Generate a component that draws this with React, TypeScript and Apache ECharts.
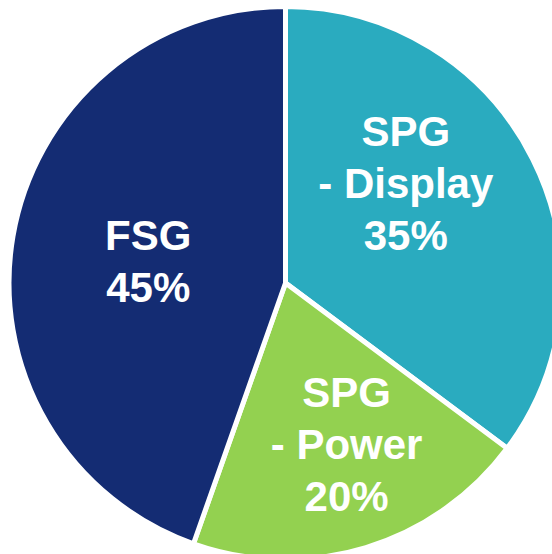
import React, { useEffect, useRef } from "react";
import * as echarts from "echarts";

const categories = ["SPG - Display", "SPG - Power", "FSG"];
const shares = [35.2, 20.2, 44.6];
const colors = ["#2AABBF", "#93D150", "#142C73"];
// label nudges (px) relative to the default inside position
const labelNudges = [
  { dx: -6, dy: -36 },
  { dx: 20, dy: 26 },
  { dx: 2, dy: 2 },
];

export default function App() {
  const ref = useRef<HTMLDivElement>(null);
  useEffect(() => {
    if (!ref.current) return;
    const chart = echarts.init(ref.current, null, { renderer: "svg" });
    chart.setOption({
      animation: false,
      series: [
        {
          type: "pie",
          center: [285.5, 283],
          radius: [0, 276.5],
          startAngle: 90,
          clockwise: true,
          avoidLabelOverlap: false,
          data: categories.map((name, i) => ({
            name,
            value: shares[i],
            itemStyle: { color: colors[i] },
          })),
          itemStyle: { borderColor: "#ffffff", borderWidth: 5 },
          label: {
            show: true,
            position: "inside",
            color: "#ffffff",
            fontFamily: "Liberation Sans, Arial, sans-serif",
            fontWeight: "bold",
            fontSize: 42,
            lineHeight: 52,
            align: "center",
            formatter: (p: any) =>
              `${p.name.replace(" - ", "\n- ")}\n${Math.round(p.percent)}%`,
          },
          labelLine: { show: false },
          labelLayout: (params: any) => labelNudges[params.dataIndex],
          emphasis: { disabled: true },
        },
      ],
    });
    return () => chart.dispose();
  }, []);
  return (
    <div
      ref={ref}
      style={{ position: "absolute", left: 0, top: 0, width: 552, height: 554 }}
    />
  );
}
